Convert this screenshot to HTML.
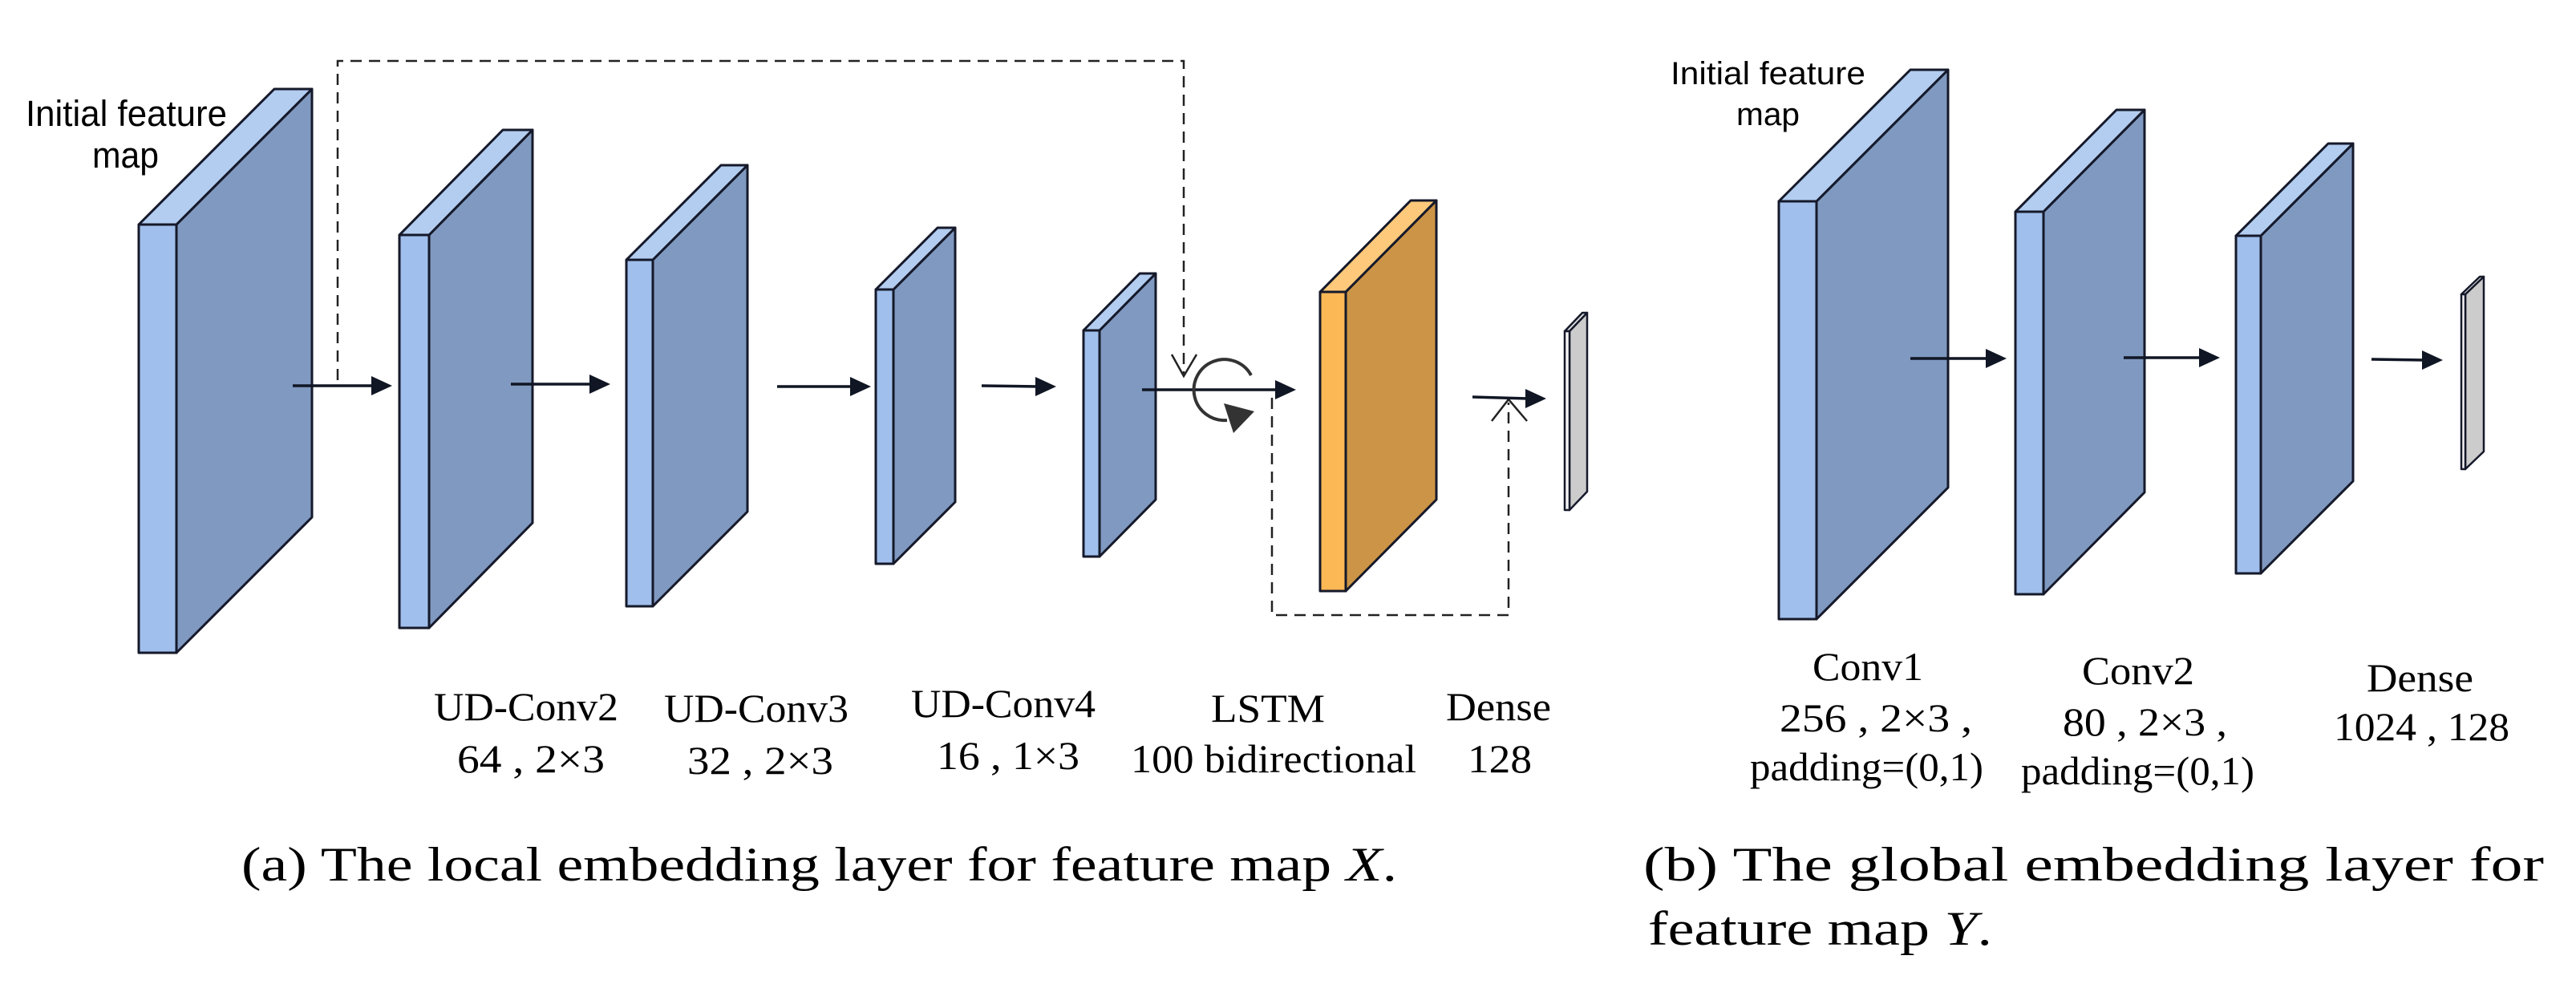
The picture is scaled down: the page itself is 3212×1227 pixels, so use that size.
<!DOCTYPE html>
<html><head><meta charset="utf-8"><style>
html,body{margin:0;padding:0;background:#fff;}
svg{display:block;}
</style></head><body>
<svg width="3212" height="1227" viewBox="0 0 3212 1227" xmlns="http://www.w3.org/2000/svg">
<defs>
<style>
.f{fill:#a0bfec;stroke:#15192a;stroke-width:3;stroke-linejoin:round}
.t{fill:#b3cdf0;stroke:#15192a;stroke-width:3;stroke-linejoin:round}
.s{fill:#8099c0;stroke:#15192a;stroke-width:3;stroke-linejoin:round}
.of{fill:#fdb856;stroke:#15192a;stroke-width:3;stroke-linejoin:round}
.ot{fill:#fec97a;stroke:#15192a;stroke-width:3;stroke-linejoin:round}
.os{fill:#cc9446;stroke:#15192a;stroke-width:3;stroke-linejoin:round}
.gf{fill:#f4f4f4;stroke:#15192a;stroke-width:2.5;stroke-linejoin:round}
.gt{fill:#e0e0e0;stroke:#15192a;stroke-width:2.5;stroke-linejoin:round}
.gs{fill:#cccccc;stroke:#15192a;stroke-width:2.5;stroke-linejoin:round}
.ar{stroke:#101624;stroke-width:3.5;fill:none}
.ah{fill:#101624}
.d{stroke:#222;stroke-width:2.5;fill:none;stroke-dasharray:14 9}
.sans{font-family:"Liberation Sans",sans-serif;fill:#000}
.ser{font-family:"Liberation Serif","Times New Roman",serif;fill:#000}
</style>
</defs>

<polygon class="s" points="220,280 389,111 389,645 220,814"/>
<polygon class="t" points="173,280 342,111 389,111 220,280"/>
<rect class="f" x="173" y="280" width="47" height="534"/>
<polygon class="s" points="535,293 664,162 664,652 535,783"/>
<polygon class="t" points="498,293 627,162 664,162 535,293"/>
<rect class="f" x="498" y="293" width="37" height="490"/>
<polygon class="s" points="814,324 932,206 932,638 814,756"/>
<polygon class="t" points="781,324 899,206 932,206 814,324"/>
<rect class="f" x="781" y="324" width="33" height="432"/>
<polygon class="s" points="1114,361 1191,284 1191,626 1114,703"/>
<polygon class="t" points="1092,361 1169,284 1191,284 1114,361"/>
<rect class="f" x="1092" y="361" width="22" height="342"/>
<polygon class="s" points="1371,412 1441,341 1441,623 1371,694"/>
<polygon class="t" points="1351,412 1421,341 1441,341 1371,412"/>
<rect class="f" x="1351" y="412" width="20" height="282"/>
<polygon class="os" points="1678,364 1791,250 1791,623 1678,737"/>
<polygon class="ot" points="1646,364 1759,250 1791,250 1678,364"/>
<rect class="of" x="1646" y="364" width="32" height="373"/>
<polygon class="gs" points="1957,413 1979,390 1979,613 1957,636"/>
<polygon class="gt" points="1951,413 1973,390 1979,390 1957,413"/>
<rect class="gf" x="1951" y="413" width="6" height="223"/>

<polyline class="d" points="421,474 421,76 1476,76 1476,466"/>
<polyline points="1461,442 1476,469 1492,442" fill="none" stroke="#222" stroke-width="2.5"/>
<polyline class="d" points="1586,496 1586,767 1881,767 1881,502"/>
<polyline points="1860,525 1881,498 1904,525" fill="none" stroke="#222" stroke-width="2.5"/>

<line class="ar" x1="365" y1="481" x2="466" y2="481"/><polygon class="ah" points="463,469 489,481 463,493"/>
<line class="ar" x1="637" y1="479" x2="738" y2="479"/><polygon class="ah" points="735,467 761,479 735,491"/>
<line class="ar" x1="969" y1="482" x2="1063" y2="482"/><polygon class="ah" points="1060,470 1086,482 1060,494"/>
<line class="ar" x1="1224" y1="481" x2="1294" y2="482"/><polygon class="ah" points="1291,470 1317,482 1291,494"/>
<line class="ar" x1="1424" y1="486" x2="1593" y2="486"/><polygon class="ah" points="1590,474 1616,486 1590,498"/>
<line class="ar" x1="1836" y1="495" x2="1905" y2="497"/><polygon class="ah" points="1902,485 1928,497 1902,509"/>
<path d="M1560,468 A38,38 0 1 0 1530,524" fill="none" stroke="#333" stroke-width="4"/>
<polygon points="1526,503 1564,513 1538,540" fill="#333"/>

<polygon class="s" points="2265,251 2429,87 2429,608 2265,772"/>
<polygon class="t" points="2218,251 2382,87 2429,87 2265,251"/>
<rect class="f" x="2218" y="251" width="47" height="521"/>
<polygon class="s" points="2548,264 2674,137 2674,614 2548,741"/>
<polygon class="t" points="2513,264 2639,137 2674,137 2548,264"/>
<rect class="f" x="2513" y="264" width="35" height="477"/>
<polygon class="s" points="2819,294 2934,179 2934,600 2819,715"/>
<polygon class="t" points="2788,294 2903,179 2934,179 2819,294"/>
<rect class="f" x="2788" y="294" width="31" height="421"/>
<polygon class="gs" points="3074,367 3097,345 3097,563 3074,585"/>
<polygon class="gt" points="3069,367 3092,345 3097,345 3074,367"/>
<rect class="gf" x="3069" y="367" width="5" height="218"/>

<line class="ar" x1="2382" y1="447" x2="2478" y2="447"/><polygon class="ah" points="2476,435 2502,447 2476,459"/>
<line class="ar" x1="2648" y1="446" x2="2744" y2="446"/><polygon class="ah" points="2742,434 2768,446 2742,458"/>
<line class="ar" x1="2957" y1="448" x2="3022" y2="449"/><polygon class="ah" points="3020,437 3046,449 3020,461"/>

<text class="sans" x="32" y="157" font-size="45" textLength="251" lengthAdjust="spacingAndGlyphs">Initial feature</text>
<text class="sans" x="115" y="209" font-size="45" textLength="83" lengthAdjust="spacingAndGlyphs">map</text>
<text class="sans" x="2083" y="105" font-size="40" textLength="243" lengthAdjust="spacingAndGlyphs">Initial feature</text>
<text class="sans" x="2165" y="156" font-size="40" textLength="79" lengthAdjust="spacingAndGlyphs">map</text>

<g class="ser" font-size="50">
<text x="541" y="898" textLength="230" lengthAdjust="spacingAndGlyphs">UD-Conv2</text>
<text x="570" y="963" textLength="184" lengthAdjust="spacingAndGlyphs">64 , 2×3</text>
<text x="828" y="900" textLength="230" lengthAdjust="spacingAndGlyphs">UD-Conv3</text>
<text x="857" y="965" textLength="182" lengthAdjust="spacingAndGlyphs">32 , 2×3</text>
<text x="1136" y="894" textLength="230" lengthAdjust="spacingAndGlyphs">UD-Conv4</text>
<text x="1168" y="959" textLength="178" lengthAdjust="spacingAndGlyphs">16 , 1×3</text>
<text x="1510" y="900" textLength="142" lengthAdjust="spacingAndGlyphs">LSTM</text>
<text x="1410" y="963" textLength="356" lengthAdjust="spacingAndGlyphs">100 bidirectional</text>
<text x="1803" y="898" textLength="131" lengthAdjust="spacingAndGlyphs">Dense</text>
<text x="1830" y="963" textLength="80" lengthAdjust="spacingAndGlyphs">128</text>

<text x="2260" y="848" textLength="138" lengthAdjust="spacingAndGlyphs">Conv1</text>
<text x="2219" y="912" textLength="240" lengthAdjust="spacingAndGlyphs">256 , 2×3 ,</text>
<text x="2182" y="973" textLength="291" lengthAdjust="spacingAndGlyphs">padding=(0,1)</text>
<text x="2596" y="853" textLength="140" lengthAdjust="spacingAndGlyphs">Conv2</text>
<text x="2572" y="917" textLength="205" lengthAdjust="spacingAndGlyphs">80 , 2×3 ,</text>
<text x="2520" y="978" textLength="291" lengthAdjust="spacingAndGlyphs">padding=(0,1)</text>
<text x="2951" y="862" textLength="133" lengthAdjust="spacingAndGlyphs">Dense</text>
<text x="2910" y="923" textLength="219" lengthAdjust="spacingAndGlyphs">1024 , 128</text>
</g>

<g class="ser" font-size="60">
<text x="301" y="1098" textLength="1441" lengthAdjust="spacingAndGlyphs">(a)  The local embedding layer for feature map <tspan font-style="italic">X</tspan>.</text>
<text x="2049" y="1098" textLength="1123" lengthAdjust="spacingAndGlyphs">(b)  The  global  embedding  layer  for</text>
<text x="2055" y="1178" textLength="429" lengthAdjust="spacingAndGlyphs">feature map <tspan font-style="italic">Y</tspan>.</text>
</g>
</svg>
</body></html>
